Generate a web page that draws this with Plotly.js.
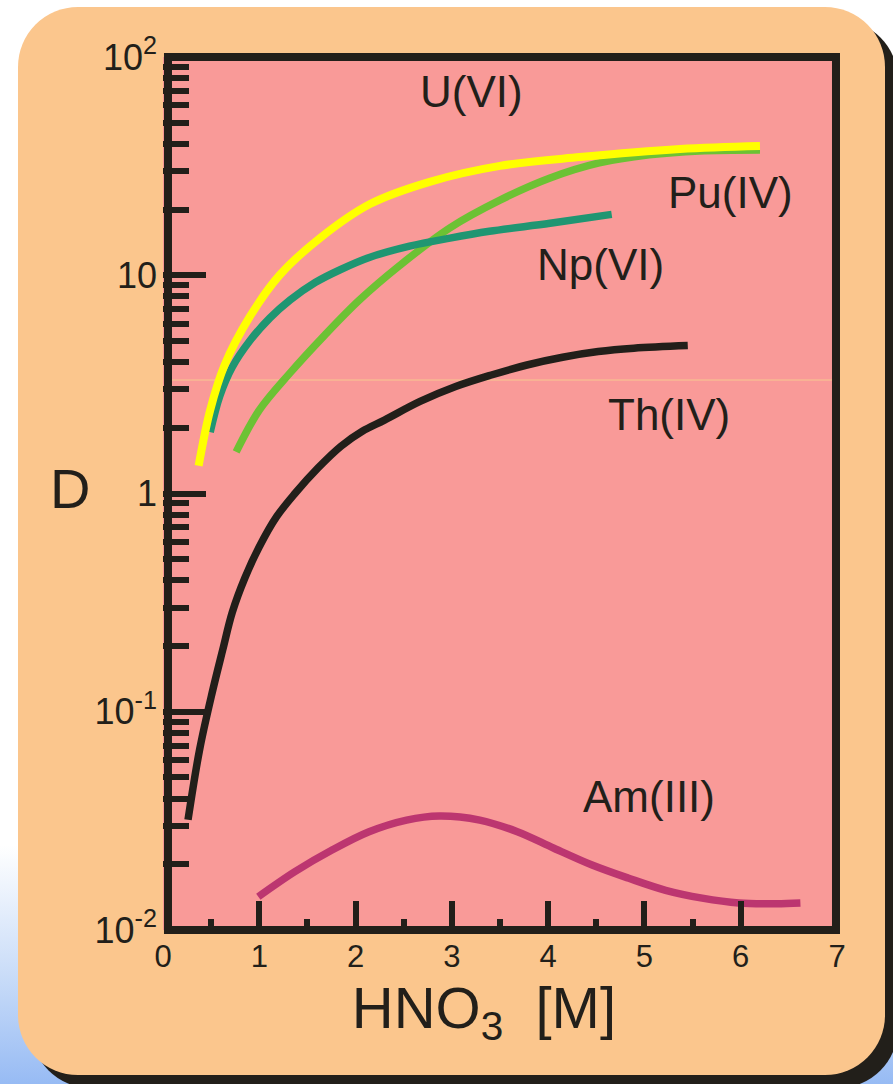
<!DOCTYPE html>
<html>
<head>
<meta charset="utf-8">
<script src="https://cdn.plot.ly/plotly-3.0.1.min.js"></script>
<style>
  html, body { margin:0; padding:0; }
  body { width:893px; height:1084px; position:relative; overflow:hidden;
         background: linear-gradient(180deg, #ffffff 0%, #ffffff 78%, #c9dcf8 90%, #97bbf4 100%); }
  #bg { position:absolute; left:18px; top:7px; width:867px; height:1068px;
        background:#FBC68D; border-radius:60px; box-shadow: 13px 13px 0 #221F1A; }
  #chart { position:absolute; left:0; top:0; width:893px; height:1084px; }
</style>
</head>
<body>
<div id="bg"></div>
<div id="chart"></div>
<script>
// HNO3 concentration [M] and distribution ratio D
const uX  = [0.37, 0.49, 0.64, 0.90, 1.21, 1.63, 2.15, 2.77, 3.50, 4.33, 5.37, 6.20];
const uD  = [1.34, 2.41, 3.88, 6.44, 10.0, 14.8, 21.2, 26.8, 31.7, 34.8, 37.9, 39.1];

const npX = [0.49, 0.59, 0.72, 0.90, 1.11, 1.32, 1.58, 1.84, 2.15, 2.56, 2.98, 3.39, 4.02, 4.66];
const npD = [1.91, 2.80, 3.80, 5.00, 6.37, 7.70, 9.26, 10.6, 12.1, 13.6, 14.8, 15.9, 17.3, 19.0];

const puX = [0.76, 1.00, 1.32, 1.68, 2.04, 2.46, 2.98, 3.50, 4.02, 4.53, 5.05, 5.57, 6.20];
const puD = [1.55, 2.41, 3.57, 5.32, 7.70, 11.1, 16.5, 22.1, 27.9, 32.7, 35.6, 37.1, 37.5];

const thX = [0.26, 0.38, 0.51, 0.62, 0.72, 0.85, 1.00, 1.18, 1.37, 1.61, 1.85, 2.07, 2.30, 2.67, 3.04, 3.41, 3.78, 4.15, 4.52, 4.89, 5.45];
const thD = [0.032, 0.067, 0.122, 0.192, 0.286, 0.410, 0.570, 0.783, 1.00, 1.31, 1.65, 1.93, 2.17, 2.64, 3.09, 3.49, 3.88, 4.21, 4.47, 4.63, 4.76];

const amX = [0.99, 1.37, 1.76, 2.14, 2.53, 2.87, 3.29, 3.68, 4.06, 4.45, 4.83, 5.22, 5.60, 5.98, 6.37, 6.62];
const amD = [0.0142, 0.0185, 0.0233, 0.0282, 0.0319, 0.0333, 0.0319, 0.0282, 0.0237, 0.0199, 0.0173, 0.0152, 0.0140, 0.0133, 0.0132, 0.0133];

const seriesNames = ['U(VI)', 'Pu(IV)', 'Np(VI)', 'Th(IV)', 'Am(III)'];

// axis ticks
const xTickVals   = [0, 1, 2, 3, 4, 5, 6, 7];
const xTickText   = ['0', '1', '2', '3', '4', '5', '6', '7'];
const xMinorVals  = [0.5, 1.5, 2.5, 3.5, 4.5, 5.5];
const yTickVals   = [0.01, 0.1, 1, 10, 100];
const yTickText   = ['10<sup>-2</sup>', '10<sup>-1</sup>', '1', '10', '10<sup>2</sup>'];

// label anchor positions (x in M, y as log10 D)
const labelX = [3.20, 5.89, 4.54, 5.26, 5.05];
const labelY = [1.84, 1.38, 1.05, 0.36, -1.39];

const INK = '#221F1A';
const FONT = 'Liberation Sans, Arial, sans-serif';

function line(x, y, color, name, w) {
  return { x: x, y: y, type: 'scatter', mode: 'lines', name: name,
           line: { color: color, width: w, shape: 'spline', smoothing: 1.0 },
           hoverinfo: 'x+y+name' };
}

const data = [
  line(thX, thD, INK, 'Th(IV)', 7.5),
  line(amX, amD, '#BC3670', 'Am(III)', 7.5),
  line(puX, puD, '#6CC234', 'Pu(IV)', 7.5),
  line(npX, npD, '#1F9672', 'Np(VI)', 7.5),
  line(uX,  uD,  '#FFFF00', 'U(VI)', 8)
];

const annotations = seriesNames.map((t, i) => ({
  x: labelX[i], y: labelY[i], xref: 'x', yref: 'y', text: t, showarrow: false,
  xanchor: 'center', yanchor: 'middle',
  font: { family: FONT, size: 44, color: INK }
}));
// y-axis title, drawn upright as in the reference
annotations.push({
  x: -0.138, y: 0.506, xref: 'paper', yref: 'paper', text: 'D', showarrow: false,
  xanchor: 'center', yanchor: 'middle',
  font: { family: FONT, size: 56, color: INK }
});

const layout = {
  width: 893, height: 1084,
  margin: { l: 163, r: 56, t: 57, b: 154 },
  paper_bgcolor: 'rgba(0,0,0,0)',
  plot_bgcolor: '#F99A98',
  showlegend: false,
  font: { family: FONT, color: INK },
  xaxis: {
    range: [0, 7], showgrid: false, zeroline: false, showline: false,
    tickmode: 'array', tickvals: xTickVals, ticktext: xTickText,
    ticks: 'inside', ticklen: 29, tickwidth: 6, tickcolor: INK,
    ticklabelstandoff: 5,
    tickfont: { family: FONT, size: 31, color: INK },
    minor: { tickmode: 'array', tickvals: xMinorVals, ticks: 'inside', ticklen: 11, tickwidth: 6, tickcolor: INK, showgrid: false },
    title: { text: 'HNO<sub>3</sub>&nbsp;&nbsp;[M]&nbsp;&nbsp;', font: { family: FONT, size: 58, color: INK }, standoff: 14 }
  },
  yaxis: {
    type: 'log', range: [-2, 2], showgrid: false, zeroline: false, showline: false,
    tickmode: 'array', tickvals: yTickVals, ticktext: yTickText,
    ticks: 'inside', ticklen: 43, tickwidth: 6, tickcolor: INK,
    ticklabelstandoff: 5,
    tickfont: { family: FONT, size: 36, color: INK },
    minor: { dtick: 'D1', ticks: 'inside', ticklen: 26, tickwidth: 6, tickcolor: INK, showgrid: false }
  },
  shapes: [
    { type: 'line', xref: 'paper', yref: 'paper', x0: 0.012, x1: 0.994, y0: 0.63, y1: 0.63,
      line: { color: '#F7C98F', width: 1 }, layer: 'below' },
    { type: 'rect', xref: 'paper', yref: 'paper', x0: 0.0074, x1: 0.9985, y0: 0, y1: 1,
      line: { color: INK, width: 8 }, fillcolor: 'rgba(0,0,0,0)', layer: 'above' }
  ],
  annotations: annotations
};

Plotly.newPlot('chart', data, layout, { displayModeBar: false, staticPlot: true });
</script>
</body>
</html>
